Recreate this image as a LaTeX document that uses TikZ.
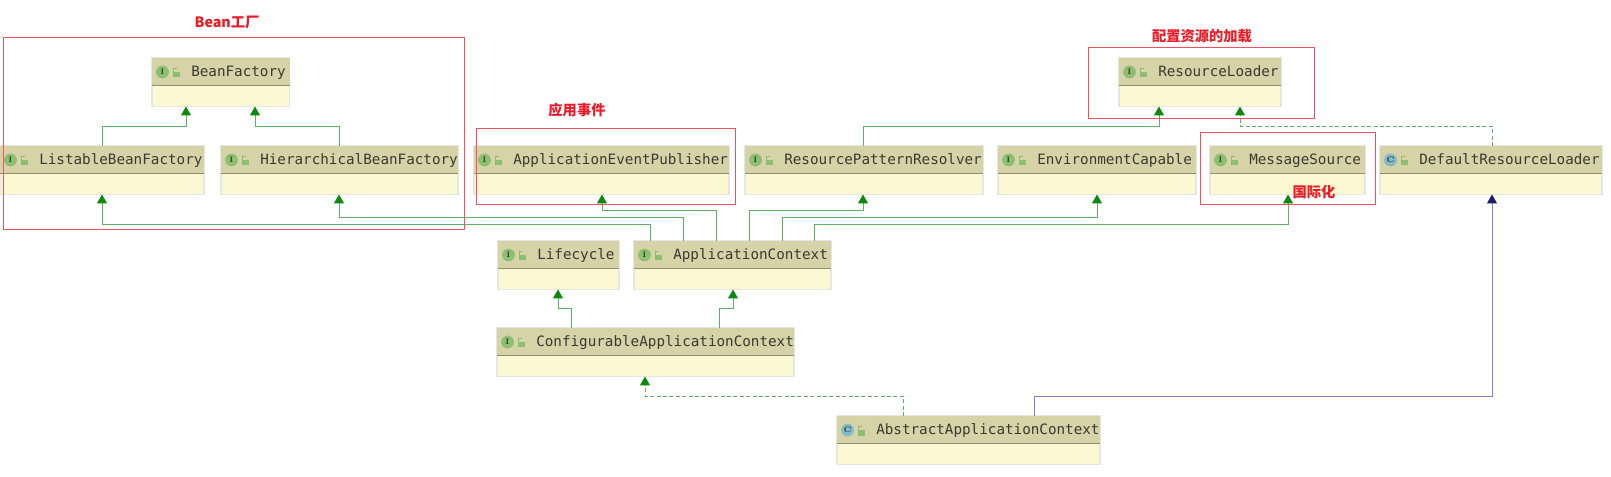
\documentclass[tikz,border=0pt]{standalone}
\usepackage{fontspec}
\usetikzlibrary{arrows.meta}
\setmonofont{DejaVu Sans Mono}
\newfontfamily\cjk{Noto Sans CJK SC}
\definecolor{bodyfill}{HTML}{FCF8D2}
\definecolor{headfill}{HTML}{D6D3A9}
\definecolor{headline}{HTML}{918E72}
\definecolor{boxedge}{HTML}{E6E6E2}
\definecolor{classtext}{HTML}{3A3A30}
\definecolor{ifacegreen}{HTML}{8CBF70}
\definecolor{classteal}{HTML}{80BCC6}
\definecolor{redmark}{HTML}{F2505C}
\definecolor{redtext}{HTML}{EA1C28}
\definecolor{inhline}{HTML}{5CB163}
\definecolor{inhtip}{HTML}{0B8A0B}
\definecolor{extline}{HTML}{8080CC}
\definecolor{exttip}{HTML}{1C1C6A}
\tikzset{
  classbox/.style={draw=boxedge,fill=bodyfill,line width=1.1pt,inner sep=0pt,outer sep=0pt},
  classname/.style={font=\ttfamily\fontsize{10.7}{12}\selectfont,text=classtext,anchor=west,inner sep=0pt,text height=7.5pt,text depth=1.5pt},
  kindletter/.style={circle,inner sep=0pt,minimum size=9.6pt,font=\rmfamily\bfseries\fontsize{6}{6}\selectfont,text=classtext},
  inherit/.style={draw=inhline,line width=.7pt,-{Triangle[length=6.6pt,width=7.4pt,color=inhtip]}},
  implement/.style={inherit,dash pattern=on 3pt off 1.8pt},
  extend/.style={draw=extline,line width=.7pt,-{Triangle[length=6.6pt,width=7.4pt,color=exttip]}},
  redframe/.style={draw=redmark,line width=.65pt},
  redlabel/.style={font=\cjk\bfseries\fontsize{10.7}{12}\selectfont,text=redtext,inner sep=0pt},
}
% name, left, right, top, letter, letter colour, text
\newcommand{\umlbox}[7]{%
  \node[classbox,minimum width={(#3-#2)*0.75pt},minimum height=36.4pt] (#1) at ({(#2+#3)/2},{#4+24.25}) {};
  \fill[headfill] (#1.north west) rectangle (#3,{#4+27.5});
  \draw[headline,line width=.9pt] (#2,{#4+27.5}) -- (#3,{#4+27.5});
  \node[kindletter,fill=#6] (#1-kind) at ({#2+10.5},{#4+14}) {#5};
  \fill[ifacegreen] ({#2+21},{#4+14}) rectangle ({#2+28},{#4+19.5});
  \draw[ifacegreen,line width=.6pt] ({#2+21.5},{#4+14}) -- ({#2+21.5},{#4+10.5}) -- ({#2+25},{#4+10.5});
  \node[classname] (#1-name) at ({#2+39},{#4+15}) {#7};
}
\begin{document}
\begin{tikzpicture}[x=0.75pt,y=-0.75pt]
\useasboundingbox[fill=white] (0,0) rectangle (1611,477);

\umlbox{bf}{152}{289.5}{58}{I}{ifacegreen}{BeanFactory}
\umlbox{lbf}{0}{204}{146}{I}{ifacegreen}{ListableBeanFactory}
\umlbox{hbf}{221}{458}{146}{I}{ifacegreen}{HierarchicalBeanFactory}
\umlbox{aep}{474}{729}{146}{I}{ifacegreen}{ApplicationEventPublisher}
\umlbox{rpr}{745}{983}{146}{I}{ifacegreen}{ResourcePatternResolver}
\umlbox{ec}{998}{1196}{146}{I}{ifacegreen}{EnvironmentCapable}
\umlbox{ms}{1210}{1365}{146}{I}{ifacegreen}{MessageSource}
\umlbox{drl}{1380}{1602}{146}{C}{classteal}{DefaultResourceLoader}
\umlbox{rl}{1119}{1281}{58}{I}{ifacegreen}{ResourceLoader}
\umlbox{lc}{498}{619}{241}{I}{ifacegreen}{Lifecycle}
\umlbox{ac}{634}{831}{241}{I}{ifacegreen}{ApplicationContext}
\umlbox{cac}{497}{794}{328}{I}{ifacegreen}{ConfigurableApplicationContext}
\umlbox{aac}{837}{1100}{416}{C}{classteal}{AbstractApplicationContext}

\draw[inherit] (lbf.north -| 102,0) |- (186,126) -- (bf.south -| 186,0);
\draw[inherit] (hbf.north -| 339,0) |- (255,126) -- (bf.south -| 255,0);
\draw[inherit] (ac.north -| 650,0) |- (102,224.5) -- (lbf.south -| 102,0);
\draw[inherit] (ac.north -| 683,0) |- (339,217.5) -- (hbf.south -| 339,0);
\draw[inherit] (ac.north -| 716,0) |- (602,210) -- (aep.south -| 602,0);
\draw[inherit] (ac.north -| 749,0) |- (863,210) -- (rpr.south -| 863,0);
\draw[inherit] (ac.north -| 782,0) |- (1097,217.5) -- (ec.south -| 1097,0);
\draw[inherit] (ac.north -| 814,0) |- (1288,224.5) -- (ms.south -| 1288,0);
\draw[inherit] (rpr.north -| 863,0) |- (1159,126) -- (rl.south -| 1159,0);
\draw[implement] (drl.north -| 1492,0) |- (1240,126) -- (rl.south -| 1240,0);
\draw[inherit] (cac.north -| 571,0) |- (558,308) -- (lc.south -| 558,0);
\draw[inherit] (cac.north -| 719,0) |- (733,308) -- (ac.south -| 733,0);
\draw[implement] (aac.north -| 903,0) |- (645,396) -- (cac.south -| 645,0);
\draw[extend] (aac.north -| 1034,0) |- (1492,396) -- (drl.south -| 1492,0);

\draw[redframe] (3,37) rectangle (464,229);
\draw[redframe] (476,128) rectangle (735.5,204);
\draw[redframe] (1088,47) rectangle (1314,118.5);
\draw[redframe] (1200,132) rectangle (1375,204);

\node[redlabel] (l1) at (227,22.5) {Bean工厂};
\node[redlabel] (l2) at (577,110) {应用事件};
\node[redlabel] (l3) at (1202,36) {配置资源的加载};
\node[redlabel] (l4) at (1314,192) {国际化};
\end{tikzpicture}
\end{document}
